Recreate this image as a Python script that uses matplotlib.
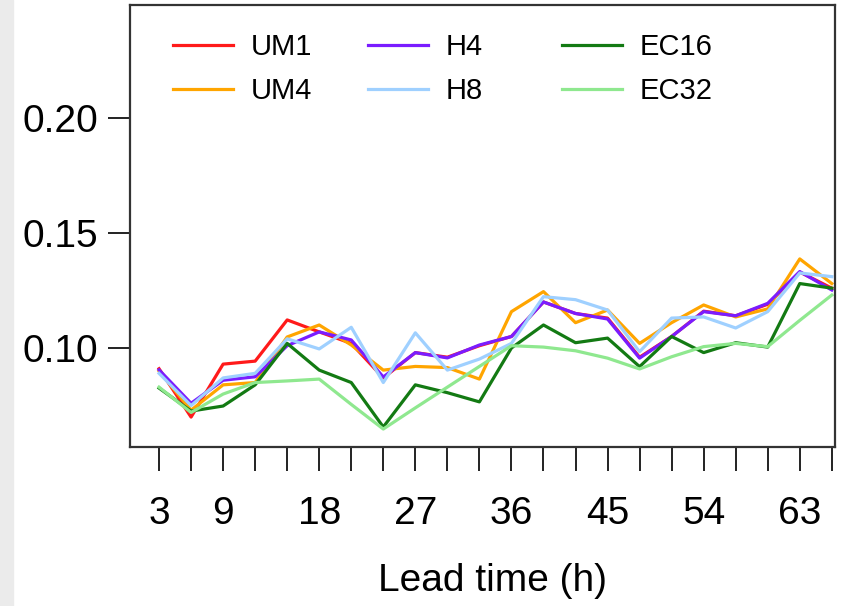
import matplotlib
matplotlib.use("Agg")
import matplotlib.pyplot as plt
from matplotlib.patches import Rectangle

plt.rcParams['font.family'] = ['Liberation Sans', 'DejaVu Sans']

lead = list(range(3, 67, 3))
shown_labels = [3, 9, 18, 27, 36, 45, 54, 63]

um1 = [0.091, 0.070, 0.093, 0.0943, 0.1122, 0.107, 0.102, 0.087, 0.098, 0.096, 0.101,
       0.105, 0.120, 0.115, 0.113, 0.096, 0.105, 0.116, 0.114, 0.119, 0.133, 0.126]
um4 = [0.090, 0.073, 0.084, 0.085, 0.1048, 0.110, 0.1013, 0.0904, 0.092, 0.0915, 0.0865,
       0.1158, 0.1245, 0.111, 0.1165, 0.102, 0.111, 0.1187, 0.1135, 0.117, 0.1387, 0.128]
h4 = [0.0905, 0.076, 0.086, 0.0875, 0.101, 0.107, 0.1035, 0.0874, 0.098, 0.0957, 0.1013,
      0.105, 0.120, 0.115, 0.1126, 0.0956, 0.105, 0.1158, 0.114, 0.1194, 0.1332, 0.1252]
h8 = [0.089, 0.075, 0.087, 0.089, 0.104, 0.0996, 0.109, 0.085, 0.1066, 0.0904, 0.0952,
      0.102, 0.1223, 0.121, 0.1165, 0.0984, 0.113, 0.1135, 0.1087, 0.1158, 0.1326, 0.131]
ec16 = [0.0826, 0.0726, 0.0748, 0.084, 0.102, 0.0904, 0.085, 0.0657, 0.084, 0.0806, 0.0766,
        0.100, 0.110, 0.1023, 0.1043, 0.0919, 0.105, 0.098, 0.1023, 0.1004, 0.128, 0.126]
ec32 = [0.083, 0.072, 0.080, 0.085, 0.0857, 0.0865, 0.0755, 0.0648, 0.074, 0.083, 0.092,
        0.101, 0.1004, 0.0988, 0.0956, 0.0909, 0.0962, 0.1006, 0.102, 0.1006, 0.112, 0.123]

names = ["UM1", "UM4", "H4", "H8", "EC16", "EC32"]
series = [um1, um4, h4, h8, ec16, ec32]
colors = ["#ff1a1a", "#ffa500", "#7a1cff", "#9fd0ff", "#137a13", "#8fe88f"]

W, H = 852, 606
fig = plt.figure(figsize=(W / 100, H / 100), dpi=100)
fig.patches.append(Rectangle((0, 0), 13 / W, 1, transform=fig.transFigure,
                             color="#ebebeb", zorder=0))
ax = fig.add_axes([130 / W, 1 - 447 / H, 705 / W, 442 / H])

lines = []
for name, vals, c in zip(names, series, colors):
    ln, = ax.plot(lead, vals, color=c, lw=2.3, label=name)
    lines.append(ln)

ax.set_xlim(0.28, 66.3)
ax.set_ylim(0.057, 0.249)
ax.set_xticks(lead)
ax.set_xticklabels([str(v) if v in shown_labels else "" for v in lead])
ax.set_yticks([0.10, 0.15, 0.20])
ax.set_yticklabels(["0.10", "0.15", "0.20"])
ax.tick_params(axis="x", length=17, width=1.4, pad=18, labelsize=28, color="#222222")
ax.tick_params(axis="y", length=16, width=1.4, pad=7, labelsize=28, color="#222222")
for sp in ax.spines.values():
    sp.set_linewidth(1.6)
    sp.set_color("#333333")

fig.text(492 / W, 1 - 581 / H, "Lead time (h)", ha="center", va="center", fontsize=28)

# legend in three columns with uneven spacing, as in the original
col_x = [173, 368, 562]
for j in range(3):
    leg = fig.legend(handles=lines[2 * j:2 * j + 2], loc="upper left",
                     bbox_to_anchor=(col_x[j] / W, 1 - 33 / H), frameon=False,
                     fontsize=21, handlelength=2.05, handletextpad=0.6,
                     borderpad=0, borderaxespad=0, labelspacing=0.55)
    for l in leg.get_lines():
        l.set_linewidth(2.3)

fig.savefig("out.png", dpi=100)
